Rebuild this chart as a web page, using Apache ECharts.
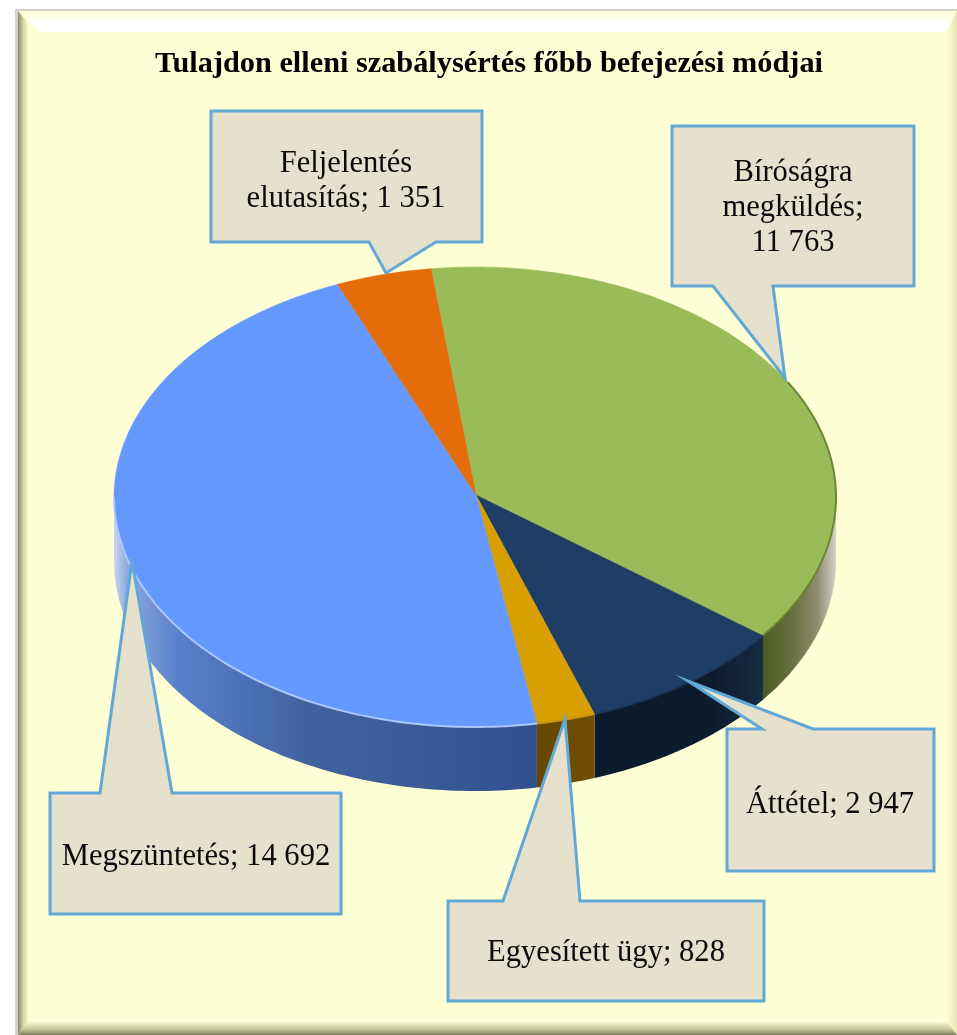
<!DOCTYPE html>
<html>
<head>
<meta charset="utf-8">
<style>html,body{margin:0;padding:0;background:#fff}#c{width:957px;height:1035px}</style>
<script src="https://cdn.jsdelivr.net/npm/echarts@6/dist/echarts.min.js"></script>
</head>
<body>
<div id="c"></div>
<script>
// ---- data (clockwise from the top of the pie) ----
const categories = ['Bíróságra\nmegküldés', 'Áttétel', 'Egyesített ügy', 'Megszüntetés', 'Feljelentés\nelutasítás'];
const values = [11763, 2947, 828, 14692, 1351];
const separators = [';\n', '; ', '; ', '; ', '; '];
const chartTitle = 'Tulajdon elleni szabálysértés főbb befejezési módjai';

// ---- layout and style, separate from the data ----
const W = 957, H = 1035;
const pie = {cx: 475, cy: 497, apexX: 476, apexY: 495, rx: 361, ry: 230, depth: 64, start: -7};
const topColors = ['#9BBB59', '#1E3E66', '#D89F00', '#6699FF', '#E46C0A'];
const rimColors = ['#64802C', '#1A3556', '#C8950A', '#B4CCFF', '#E46C0A'];
const rimStart = [60, null, null, null, null];
const wallFills = [
  [[0, '#4B5B22'], [0.4, '#69703F'], [0.75, '#8F8D70'], [1, '#D4D4C8']],
  [[0, '#0C1A2D'], [0.7, '#0D1B2F'], [1, '#172B44']],
  [[0, '#664700'], [1, '#6E4E04']],
  [[0, '#33508F'], [0.55, '#40639F'], [0.85, '#5880CC'], [0.97, '#8FA9E0'], [1, '#CBD6F0']],
  [[0, '#E46C0A'], [1, '#E46C0A']]
];
const boxes = [
  {x: 672, y: 126, w: 242, h: 160, side: 'bottom', base: [713, 773], tip: [785, 378], tx: 793, ty: 208},
  {x: 727, y: 729, w: 207, h: 142, side: 'top', base: [762, 813], tip: [688, 681], tx: 830, ty: 805},
  {x: 448, y: 901, w: 316, h: 100, side: 'top', base: [503, 580], tip: [565, 719], tx: 606, ty: 953},
  {x: 50, y: 793, w: 291, h: 121, side: 'top', base: [100, 172], tip: [132, 561], tx: 196, ty: 857},
  {x: 211, y: 111, w: 271, h: 131, side: 'bottom', base: [369, 436], tip: [386, 273], tx: 346, ty: 181}
];
const serif = '"Liberation Serif","Times New Roman",serif';

const total = values.reduce((a, b) => a + b, 0);
const cumulative = values.reduce((acc, v) => acc.concat(acc[acc.length - 1] + v), [0]);
const toAngle = v => echarts.number.linearMap(v, [0, total], [pie.start, pie.start + 360]);
const onRim = (deg, dy) => {
  const t = deg * Math.PI / 180;
  return [pie.cx + pie.rx * Math.sin(t), pie.cy - pie.ry * Math.cos(t) + (dy || 0)];
};
const arc = (a, b, dy) => {
  const n = Math.max(2, Math.ceil(Math.abs(b - a)));
  const pts = [];
  for (let i = 0; i <= n; i++) pts.push(onRim(a + (b - a) * i / n, dy));
  return pts;
};
const groupThousands = v => String(v).replace(/\B(?=(\d{3})+$)/g, ' ');
const gradient = (stops) => new echarts.graphic.LinearGradient(0, 0, 1, 0, stops.map(s => ({offset: s[0], color: s[1]})));

function renderSlice(params, api) {
  const i = params.dataIndex;
  const a = toAngle(cumulative[i]);
  const b = toAngle(cumulative[i] + api.value(0));
  const children = [];
  // visible front wall: the part of the slice between 90 and 270 degrees
  const w1 = Math.max(a, 90), w2 = Math.min(b, 270);
  if (w2 > w1) {
    const stops = (i === 3) ? wallFills[i].map(s => [1 - s[0], s[1]]).reverse() : wallFills[i];
    children.push({
      type: 'polygon',
      shape: {points: arc(w1, w2, 0).concat(arc(w2, w1, pie.depth))},
      style: {fill: gradient(stops), stroke: null}
    });
  }
  children.push({
    type: 'polygon',
    shape: {points: [[pie.apexX, pie.apexY]].concat(arc(a, b, 0))},
    style: {fill: topColors[i], stroke: topColors[i], lineWidth: 0.5}
  });
  if (w2 > w1) {
    const r1 = rimStart[i] === null ? w1 : rimStart[i];
    children.push({
      type: 'polyline',
      shape: {points: arc(r1, w2, 0)},
      style: {fill: null, stroke: rimColors[i], lineWidth: 2, opacity: 0.9}
    });
  }
  return {type: 'group', children};
}

function renderCallout(params, api) {
  const i = params.dataIndex;
  const c = boxes[i];
  const l = c.x, r = c.x + c.w, t = c.y, b = c.y + c.h;
  const pts = c.side === 'bottom'
    ? [[l, t], [r, t], [r, b], [c.base[1], b], c.tip, [c.base[0], b], [l, b]]
    : [[l, t], [c.base[0], t], c.tip, [c.base[1], t], [r, t], [r, b], [l, b]];
  return {
    type: 'group',
    children: [
      {type: 'polygon', shape: {points: pts},
       style: {fill: '#E6E1CD', stroke: '#62A8D6', lineWidth: 3, lineJoin: 'miter'}},
      {type: 'text', z2: 5, style: {
        text: categories[i] + separators[i] + groupThousands(api.value(0)),
        x: c.tx, y: c.ty, align: 'center', verticalAlign: 'middle',
        font: '30.6px ' + serif, lineHeight: 35, fill: '#0a0a0a'
      }}
    ]
  };
}

const chart = echarts.init(document.getElementById('c'), null, {renderer: 'canvas'});
chart.setOption({
  animation: false,
  backgroundColor: '#FFFFFF',
  title: {
    text: chartTitle, left: 489, top: 44, textAlign: 'center',
    textStyle: {fontFamily: serif, fontWeight: 'bold', fontSize: 30.3, color: '#000'}
  },
  graphic: [
    {type: 'rect', z: -10, shape: {x: 15, y: 9, width: W - 15, height: H - 9}, style: {fill: '#D2D2CC'}},
    {type: 'rect', z: -9, shape: {x: 18, y: 11, width: W - 18, height: H - 11}, style: {fill: '#FFFFD6'}},
    {type: 'polygon', z: -8, shape: {points: [[18, 11], [W, 11], [W - 11, 32], [40, 32]]},
     style: {fill: new echarts.graphic.LinearGradient(0, 0, 0, 1, [{offset: 0, color: '#FFFFD6'}, {offset: 0.4, color: '#FFFFEC'}, {offset: 0.6, color: '#FFFFFF'}, {offset: 1, color: '#FFFFFC'}])}},
    {type: 'polygon', z: -8, shape: {points: [[18, 11], [29, 24], [29, 1022], [18, H]]},
     style: {fill: new echarts.graphic.LinearGradient(0, 0, 1, 0, [{offset: 0, color: '#8A8A68'}, {offset: 0.5, color: '#D6D6AC'}, {offset: 1, color: '#FFFFD6'}])}},
    {type: 'polygon', z: -8, shape: {points: [[W, 11], [W - 11, 32], [W - 11, 1022], [W, H]]},
     style: {fill: new echarts.graphic.LinearGradient(0, 0, 1, 0, [{offset: 0, color: '#FFFFD6'}, {offset: 1, color: '#E4E4B4'}])}},
    {type: 'polygon', z: -8, shape: {points: [[18, H], [W, H], [W - 11, 1021], [30, 1021]]},
     style: {fill: new echarts.graphic.LinearGradient(0, 0, 0, 1, [{offset: 0, color: '#FFFFD6'}, {offset: 0.6, color: '#C4C49A'}, {offset: 1, color: '#7E7E5E'}])}}
  ],
  tooltip: {show: false},
  series: [
    {type: 'custom', coordinateSystem: 'none', z: 2, renderItem: renderSlice, data: values.map(v => [v]), silent: true, clip: false},
    {type: 'custom', coordinateSystem: 'none', z: 3, renderItem: renderCallout, data: values.map(v => [v]), silent: true, clip: false}
  ]
});
chart.setOption({title: {left: 484}});
</script>
</body>
</html>
